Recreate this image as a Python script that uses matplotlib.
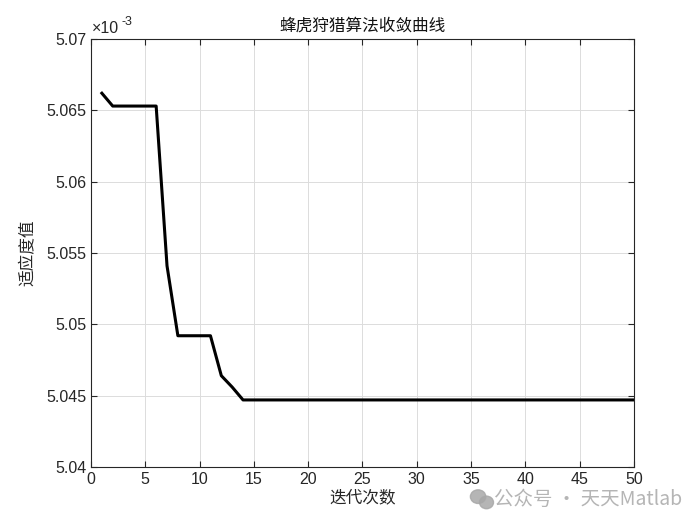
import matplotlib
matplotlib.use("Agg")
import matplotlib.pyplot as plt
from matplotlib.ticker import FuncFormatter, MultipleLocator
from matplotlib.patches import Ellipse

plt.rcParams['font.family'] = ['Liberation Sans', 'Noto Sans CJK SC', 'DejaVu Sans']

iterations = list(range(1, 51))
fitness = [5.0662e-3, 5.0653e-3, 5.0653e-3, 5.0653e-3, 5.0653e-3, 5.0653e-3,
           5.0541e-3, 5.0492e-3, 5.0492e-3, 5.0492e-3, 5.0492e-3,
           5.0464e-3, 5.0456e-3] + [5.0447e-3] * 37

title = "蜂虎狩猎算法收敛曲线"
xlabel = "迭代次数"
ylabel = "适应度值"
watermark = "公众号 · 天天Matlab"

fig = plt.figure(figsize=(7, 5.25), dpi=100)
ax = fig.add_axes([0.13, 0.1105, 0.7757, 0.8152])
ax.plot(iterations, fitness, color='black', linewidth=2.2)

ax.set_xlim(0, 50)
ax.set_ylim(5.04e-3, 5.07e-3)
ax.xaxis.set_major_locator(MultipleLocator(5))
ax.yaxis.set_major_locator(MultipleLocator(0.005e-3))
ax.yaxis.set_major_formatter(FuncFormatter(lambda v, p: f"{v*1e3:.4g}"))
ax.grid(True, color='#dcdcdc', linewidth=0.7)
ax.set_axisbelow(True)
ax.tick_params(direction='in', length=4, labelsize=11.5, colors='#262626', top=True, right=True,
               labeltop=False, labelright=False)
for s in ax.spines.values():
    s.set_color('#262626')
    s.set_linewidth(0.8)

ax.set_title(title, fontsize=12, fontfamily=['Noto Sans CJK SC'], color='#111111', pad=6)
ax.set_xlabel(xlabel, fontsize=12, fontfamily=['Noto Sans CJK SC'], color='#262626', labelpad=2)
ax.set_ylabel(ylabel, fontsize=12, fontfamily=['Noto Sans CJK SC'], color='#262626', labelpad=7)

ax.annotate("×10", xy=(0, 1), xycoords='axes fraction', xytext=(1, 2), textcoords='offset points',
            fontsize=11.5, color='#262626', ha='left', va='bottom')
ax.annotate("-3", xy=(0, 1), xycoords='axes fraction', xytext=(22, 8), textcoords='offset points',
            fontsize=9, color='#262626', ha='left', va='bottom')

# watermark
fig.text(0.706, 0.049, watermark, fontsize=14, color='#a8a8a8', alpha=0.85,
         fontfamily=['Noto Sans CJK SC', 'DejaVu Sans'], ha='left', va='center')
fig.patches.append(Ellipse((0.683, 0.054), 0.022, 0.026, transform=fig.transFigure, color='#a8a8a8', alpha=0.85))
fig.patches.append(Ellipse((0.695, 0.043), 0.020, 0.024, transform=fig.transFigure, color='#a8a8a8', alpha=0.85))

fig.savefig("out.png", dpi=100, facecolor='white')
